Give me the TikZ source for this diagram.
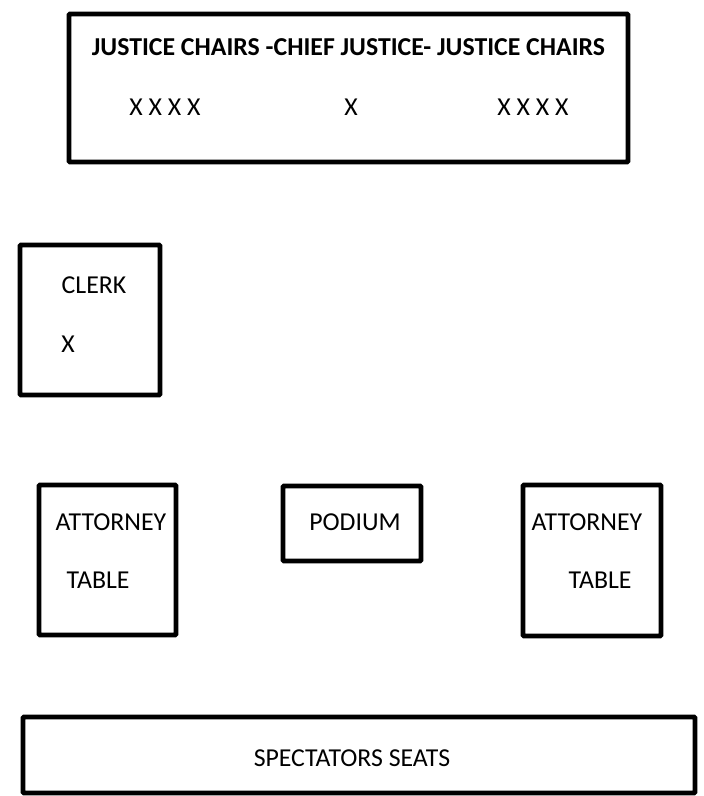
\documentclass[tikz,border=0pt]{standalone}
\usepackage{fontspec}
\setmainfont{Carlito}
\usetikzlibrary{calc, positioning}

\tikzset{
  room/.style={line width=4.8pt, black, rounded corners=1pt},
  label/.style={inner sep=0pt, font=\fontsize{25.8}{30}\selectfont}
}

\begin{document}
\begin{tikzpicture}[x=1pt, y=-1pt]
\useasboundingbox (0,0) rectangle (704,796);

% bench
\coordinate (BenchA) at (69,14);
\coordinate (BenchB) at (628,162);
\draw[room] (BenchA) rectangle (BenchB);
\node[label, font=\fontsize{25.8}{30}\selectfont\bfseries] (bench) at (348.5,47) {JUSTICE CHAIRS -CHIEF JUSTICE- JUSTICE CHAIRS};
\node[label] (seatsL) at (165,107.5) {X X X X};
\node[label] (seatC) at (351,107.5) {X};
\node[label] (seatsR) at (533,107.5) {X X X X};

% clerk
\draw[room] (20,245) rectangle (160,395);
\node[label] (clerk) at (94,285) {CLERK};
\node[label] (clerkX) at (68,344) {X};

% tables and podium
\draw[room] (39,485) rectangle (176,635);
\node[label] (attyL) at (111,522) {ATTORNEY};
\node[label] (tableL) at (98,580) {TABLE};

\draw[room] (283,486) rectangle (421,561);
\node[label] (podium) at (355,522) {PODIUM};

\draw[room] (523,485) rectangle (661,636);
\node[label] (attyR) at (587,522) {ATTORNEY};
\node[label] (tableR) at (600,580) {TABLE};

% gallery
\draw[room] (23,717) rectangle (695,793);
\node[label] (gallery) at (352,758) {SPECTATORS SEATS};
\end{tikzpicture}
\end{document}
